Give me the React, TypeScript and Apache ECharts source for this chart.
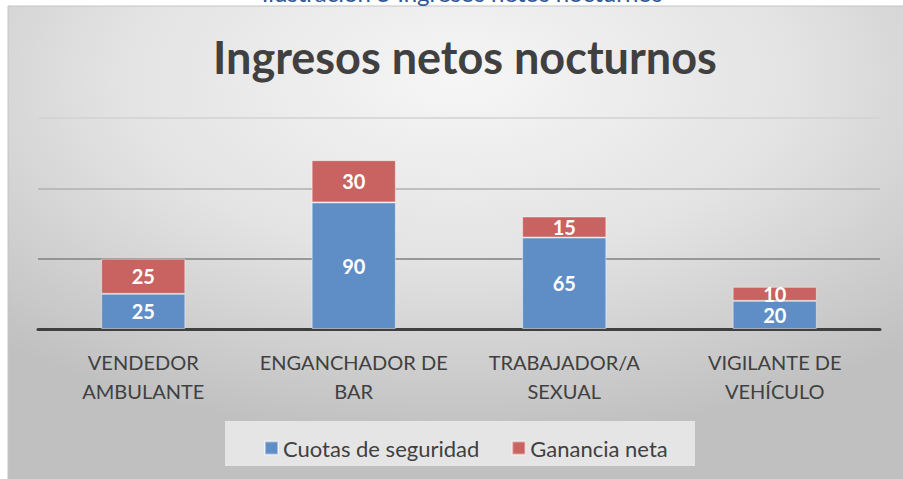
import React, { useEffect, useRef } from "react";
import * as echarts from "echarts";

const categories = ["VENDEDOR\nAMBULANTE", "ENGANCHADOR DE\nBAR", "TRABAJADOR/A\nSEXUAL", "VIGILANTE DE\nVEHÍCULO"];
const cuotasSeguridad = [25, 90, 65, 20];
const gananciaNeta = [25, 30, 15, 10];
const seriesNames = ["Cuotas de seguridad", "Ganancia neta"];
const chartTitle = "Ingresos netos nocturnos";
const captionText = "Ilustración 5 Ingresos netos nocturnos";

const FONT = "Lato, 'Open Sans', sans-serif";

export default function App() {
  const ref = useRef<HTMLDivElement>(null);
  useEffect(() => {
    if (!ref.current) return;
    const chart = echarts.init(ref.current, null, { renderer: "svg" });
    const labelStyle = {
      show: true,
      position: "inside",
      color: "#ffffff",
      fontWeight: "bold",
      fontSize: 20,
      fontFamily: FONT,
    };
    chart.setOption({
      animation: false,
      backgroundColor: "#ffffff",
      textStyle: { fontFamily: FONT },
      graphic: [
        {
          type: "rect",
          z: -10,
          shape: { x: 8, y: 6, width: 900, height: 480 },
          style: {
            fill: new echarts.graphic.RadialGradient(0.5, 0.15, 0.75, [
              { offset: 0, color: "#f6f6f6" },
              { offset: 0.5, color: "#e3e3e3" },
              { offset: 1, color: "#c0c0c0" },
            ]),
            stroke: "#c4c4c4",
            lineWidth: 1,
          },
        },
        {
          type: "text",
          x: 462,
          y: -20,
          style: {
            text: captionText,
            fill: "#2f5597",
            fontSize: 24,
            fontFamily: FONT,
            textAlign: "center",
            textVerticalAlign: "top",
          },
        },
        {
          type: "rect",
          z: -5,
          shape: { x: 225, y: 421, width: 470, height: 45 },
          style: { fill: "#e5e5e5" },
        },
      ],
      title: {
        text: chartTitle,
        left: 208,
        top: 29,
        textStyle: {
          fontFamily: FONT,
          fontSize: 45,
          fontWeight: "bold",
          color: "#404040",
        },
      },
      legend: {
        left: 259,
        top: 432,
        itemWidth: 13,
        itemHeight: 13,
        itemGap: 32,
        icon: "rect",
        textStyle: { fontSize: 22, color: "#404040", fontFamily: FONT },
        data: seriesNames,
      },
      grid: { left: 38, right: 23, top: 118, bottom: 150, containLabel: false },
      xAxis: {
        type: "category",
        data: categories,
        axisLine: { lineStyle: { color: "#404040", width: 3 } },
        axisTick: { show: false },
        axisLabel: {
          color: "#404040",
          fontSize: 20,
          lineHeight: 29,
          margin: 18,
          fontFamily: FONT,
          interval: 0,
        },
      },
      yAxis: {
        type: "value",
        min: 0,
        max: 150,
        interval: 50,
        axisLabel: { show: false },
        axisLine: { show: false },
        axisTick: { show: false },
        splitLine: {
          lineStyle: { color: ["#404040", "#808080", "#b0b0b0", "#d2d2d2"], width: 1.5 },
        },
      },
      series: [
        {
          name: seriesNames[0],
          type: "bar",
          stack: "total",
          barWidth: "40%",
          data: cuotasSeguridad,
          itemStyle: { color: "#5f8ec7", borderColor: "rgba(255,255,255,0.45)", borderWidth: 1 },
          label: labelStyle,
        },
        {
          name: seriesNames[1],
          type: "bar",
          stack: "total",
          barWidth: "40%",
          data: gananciaNeta,
          itemStyle: { color: "#c86361", borderColor: "rgba(255,255,255,0.45)", borderWidth: 1 },
          label: labelStyle,
        },
      ],
    });
    return () => chart.dispose();
  }, []);
  return (
    <div
      ref={ref}
      style={{ position: "absolute", left: 0, top: 0, width: 903, height: 479 }}
    />
  );
}
